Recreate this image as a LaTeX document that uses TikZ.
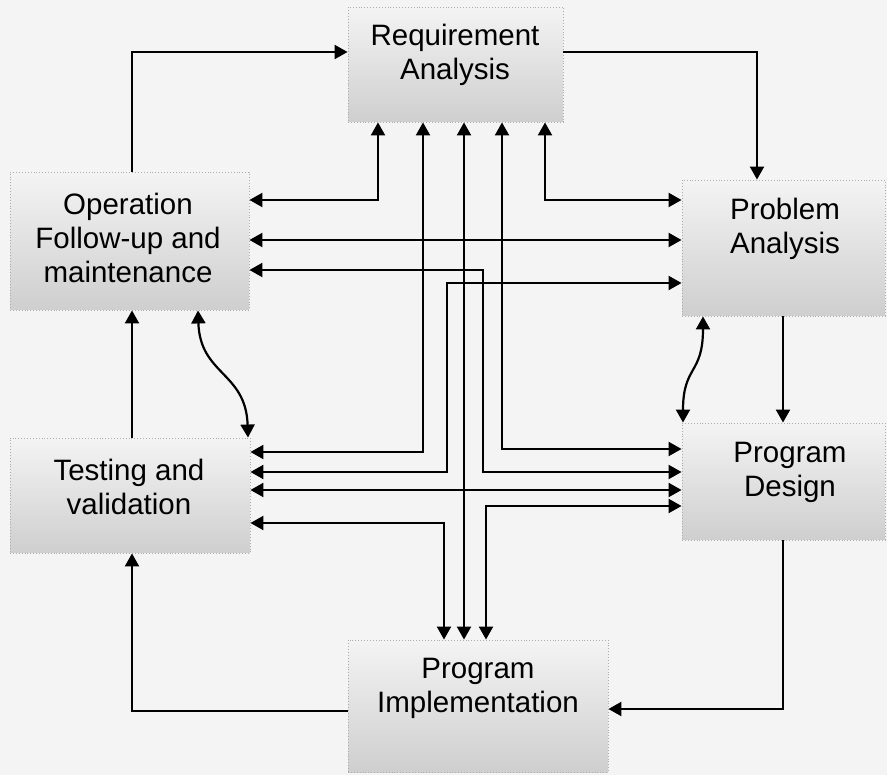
\documentclass[tikz,border=0pt]{standalone}
\usepackage{fontspec}
\setmainfont{Liberation Sans}
\usetikzlibrary{arrows.meta}

\begin{document}
\begin{tikzpicture}[x=1pt,y=-1pt,
  >={Triangle[length=13pt,width=14pt]},
  box/.style={draw=gray!65, dotted, line width=0.9pt, top color=gray!9, bottom color=gray!38,
              inner sep=0pt},
  lbl/.style={align=center, font=\fontsize{29.5}{34}\selectfont, inner sep=0pt},
  flow/.style={line width=2.2pt, ->},
  dbl/.style={line width=2.2pt, <->},
]
% page and background
\fill[gray!9] (0,0) rectangle (887,775);
\useasboundingbox (0,0) rectangle (887,775);

% phase boxes
\node[box, minimum width=215pt, minimum height=115pt] (RA) at (455.5,64.5) {};
\node[box, minimum width=239pt, minimum height=138pt] (OF) at (129.5,241) {};
\node[box, minimum width=203pt, minimum height=136pt] (PA) at (783.5,248) {};
\node[box, minimum width=240pt, minimum height=115pt] (TV) at (130,495.5) {};
\node[box, minimum width=203pt, minimum height=117pt] (PD) at (783.5,481.5) {};
\node[box, minimum width=260pt, minimum height=132pt] (PI) at (478,706) {};

% box captions
\node[lbl] (RAt) at (455,55)  {Requirement\\Analysis};
\node[lbl] (OFt) at (128,238) {Operation\\Follow-up and\\maintenance};
\node[lbl] (PAt) at (785,229) {Problem\\Analysis};
\node[lbl] (TVt) at (129,487) {Testing and\\validation};
\node[lbl] (PDt) at (790,472) {Program\\Design};
\node[lbl] (PIt) at (478,688) {Program\\Implementation};

% main life cycle loop
\draw[flow] (OF.north -| 132,0) |- (RA.west |- 0,52);
\draw[flow] (RA.east |- 0,52) -| (PA.north -| 757,0);
\draw[flow] (PA.south -| 783,0) -- (PD.north -| 783,0);
\draw[flow] (PD.south -| 783,0) |- (PI.east |- 0,709);
\draw[flow] (PI.west |- 0,711) -| (TV.south -| 132,0);
\draw[flow] (TV.north -| 132,0) -- (OF.south -| 132,0);

% feedback between neighbouring phases
\draw[dbl] (OF.south -| 198,0) .. controls (200,375) and (246,372) .. (TV.north -| 248,0);
\draw[dbl] (PA.south -| 703,0) .. controls (703,375) and (683,365) .. (PD.north -| 683,0);

% cross links between all phases
\draw[dbl] (OF.east |- 0,200) -| (RA.south -| 378,0);
\draw[dbl] (RA.south -| 545,0) |- (PA.west |- 0,200);
\draw[dbl] (OF.east |- 0,240) -- (PA.west |- 0,240);
\draw[dbl] (OF.east |- 0,270) -| (483,472) -- (PD.west |- 0,472);
\draw[dbl] (PA.west |- 0,283) -| (447,472) -- (TV.east |- 0,472);
\draw[dbl] (RA.south -| 423,0) |- (TV.east |- 0,452);
\draw[dbl] (RA.south -| 502,0) |- (PD.west |- 0,449);
\draw[dbl] (TV.east |- 0,490) -- (PD.west |- 0,490);
\draw[dbl] (RA.south -| 464,0) -- (PI.north -| 464,0);
\draw[dbl] (PD.west |- 0,506) -| (PI.north -| 486,0);
\draw[dbl] (TV.east |- 0,523) -| (PI.north -| 444,0);
\end{tikzpicture}
\end{document}
